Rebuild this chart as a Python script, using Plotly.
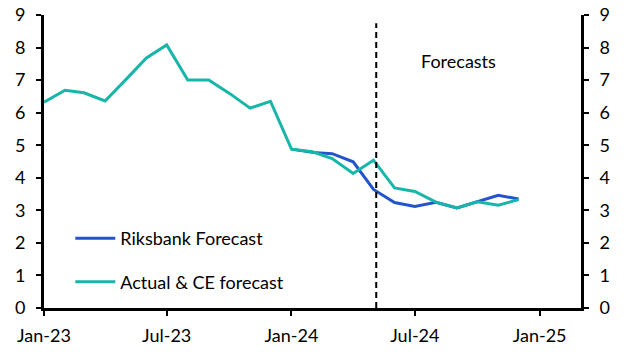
import plotly.graph_objects as go

months_actual = ["2023-01-01","2023-02-01","2023-03-01","2023-04-01","2023-05-01","2023-06-01",
                 "2023-07-01","2023-08-01","2023-09-01","2023-10-01","2023-11-01","2023-12-01",
                 "2024-01-01","2024-02-01","2024-03-01","2024-04-01","2024-05-01","2024-06-01",
                 "2024-07-01","2024-08-01","2024-09-01","2024-10-01","2024-11-01","2024-12-01"]
actual_ce = [6.32, 6.69, 6.61, 6.36, 7.0, 7.68, 8.08, 7.0, 7.0, 6.6, 6.14, 6.35,
             4.88, 4.8, 4.59, 4.13, 4.54, 3.69, 3.58, 3.25, 3.07, 3.26, 3.16, 3.33]

months_riks = ["2024-01-01","2024-02-01","2024-03-01","2024-04-01","2024-05-01","2024-06-01",
               "2024-07-01","2024-08-01","2024-09-01","2024-10-01","2024-11-01","2024-12-01"]
riksbank = [4.88, 4.78, 4.74, 4.49, 3.64, 3.24, 3.12, 3.25, 3.07, 3.26, 3.46, 3.35]

y_ticks = [0, 1, 2, 3, 4, 5, 6, 7, 8, 9]
x_tick_dates = ["2023-01-01", "2023-07-01", "2024-01-01", "2024-07-01", "2025-01-01"]
x_tick_labels = ["Jan-23", "Jul-23", "Jan-24", "Jul-24", "Jan-25"]
forecast_start = "2024-05-05"

BLUE = "#2354CC"
TEAL = "#17B6A9"
FONT = "Lato"
FS = 18

fig = go.Figure()
fig.add_trace(go.Scatter(x=months_riks, y=riksbank, mode="lines", name="Riksbank Forecast",
                         line=dict(color=BLUE, width=3), legendgroup="a"))
fig.add_trace(go.Scatter(x=months_actual, y=actual_ce, mode="lines", name="Actual & CE forecast",
                         line=dict(color=TEAL, width=3), legendgroup="b"))
fig.add_trace(go.Scatter(x=months_actual, y=actual_ce, yaxis="y2", mode="lines",
                         line=dict(color="rgba(0,0,0,0)", width=0), showlegend=False,
                         hoverinfo="skip"))

fig.add_shape(type="line", xref="x", yref="y", x0=forecast_start, x1=forecast_start,
              y0=0, y1=8.75, line=dict(color="black", width=2, dash="6px,4px"))
fig.add_annotation(x="2024-09-04", y=7.6, xref="x", yref="y", text="Forecasts",
                   showarrow=False, font=dict(family=FONT, size=FS, color="black"))

axis_common = dict(range=[0, 9], tickvals=y_ticks, showgrid=False, zeroline=False,
                   showline=True, linecolor="black", linewidth=3, ticks="outside",
                   ticklen=5, tickwidth=2, tickcolor="black", automargin=False,
                   ticklabelstandoff=7,
                   tickfont=dict(family=FONT, size=FS, color="black"))

fig.update_layout(
    width=626, height=360,
    margin=dict(l=44, r=45, t=15, b=52),
    paper_bgcolor="white", plot_bgcolor="white",
    xaxis=dict(type="date", range=["2023-01-01", "2025-03-03"], tickvals=x_tick_dates,
               ticktext=x_tick_labels, showgrid=False, zeroline=False, showline=True,
               linecolor="black", linewidth=3, ticks="outside", ticklen=5, tickwidth=2,
               tickcolor="black", automargin=False, ticklabelstandoff=4,
               tickfont=dict(family=FONT, size=FS, color="black")),
    yaxis=dict(side="left", **axis_common),
    yaxis2=dict(side="right", overlaying="y", **axis_common),
    legend=dict(x=0.049, y=0.3, xanchor="left", yanchor="top", bgcolor="rgba(0,0,0,0)",
                font=dict(family=FONT, size=FS, color="black"), itemwidth=40,
                tracegroupgap=17),
    showlegend=True,
)

fig.write_html("out.html", config={"displayModeBar": False},
               post_script="document.body.style.margin='0';document.body.style.overflow='hidden';")
